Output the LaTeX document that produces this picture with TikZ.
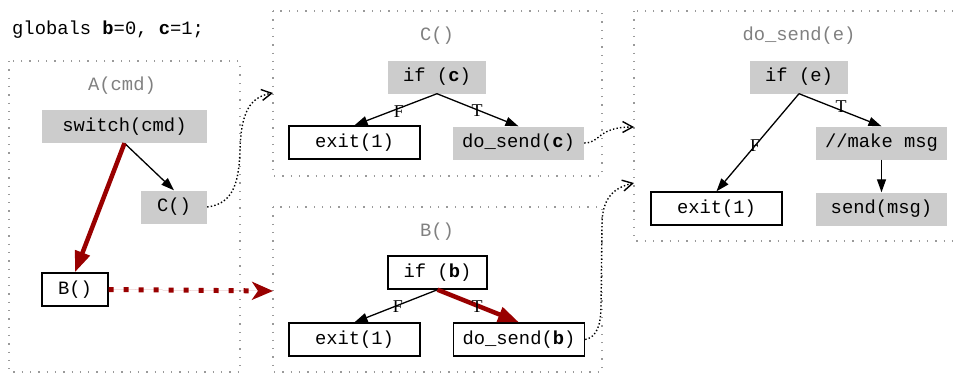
\documentclass[tikz,border=0pt]{standalone}
\usepackage{fontspec}
\setmainfont{Liberation Mono}
\newfontfamily\labfont{Liberation Serif}
\usetikzlibrary{arrows.meta}
\definecolor{boxgray}{HTML}{CCCCCC}
\definecolor{clustgray}{HTML}{9A9A9A}
\definecolor{titlegray}{HTML}{808080}
\definecolor{hotred}{RGB}{153,0,0}
\tikzset{
  code/.style={font=\fontsize{18.8}{20}\selectfont, inner sep=0pt},
  grayblock/.style={code, fill=boxgray, minimum height=33pt},
  plainblock/.style={code, draw=black, line width=1.4pt, fill=white, minimum height=33pt},
  cluster/.style={draw=clustgray, line width=1.3pt, dash pattern=on 1.3pt off 7pt},
  clustertitle/.style={code, text=titlegray, anchor=base},
  flow/.style={-{Triangle[length=13pt,width=9pt]}, line width=1.3pt},
  hotflow/.style={-{Triangle[length=21pt,width=15pt]}, line width=4.5pt, draw=hotred, fill=hotred},
  callflow/.style={-{Straight Barb[length=10pt,width=11pt]}, line width=1.4pt, dash pattern=on 1.4pt off 2.2pt},
  hotcall/.style={-{Stealth[length=21pt,width=18pt,inset=6pt]}, line width=5pt, draw=hotred, fill=hotred, dash pattern=on 5pt off 10pt},
  elabel/.style={font=\labfont\fontsize{18}{20}\selectfont, inner sep=0pt}
}
\begin{document}
\begin{tikzpicture}[x=1pt,y=-1pt]
\useasboundingbox (0,0) rectangle (953,373);

% global declarations
\node[code, anchor=base west] (globals) at (12,34) {globals \textbf{b}=0, \textbf{c}=1;};

% function clusters
\draw[cluster] (9,61) rectangle (240,372);
\draw[cluster] (273,11) rectangle (602,176);
\draw[cluster] (273,207) rectangle (602,372);
\draw[cluster] (634,11) rectangle (962,241);

\node[clustertitle] (tA) at (122,90) {A(cmd)};
\node[clustertitle] (tC) at (437,40) {C()};
\node[clustertitle] (tB) at (437,236) {B()};
\node[clustertitle] (tD) at (799,40) {do\_send(e)};

% A(cmd)
\node[grayblock, minimum width=165pt] (sw) at (124.5,126.5) {switch(cmd)};
\node[grayblock, minimum width=66pt] (callC) at (174,207) {C()};
\node[plainblock, minimum width=66pt] (callB) at (75,289.5) {B()};

% C()
\node[grayblock, minimum width=98pt] (ifc) at (437,77) {if (\textbf{c})};
\node[plainblock, minimum width=131pt] (exitc) at (354.5,142.5) {exit(1)};
\node[grayblock, minimum width=131pt] (sendc) at (518.5,143) {do\_send(\textbf{c})};

% B()
\node[plainblock, minimum width=99pt] (ifb) at (437.5,272.5) {if (\textbf{b})};
\node[plainblock, minimum width=131pt] (exitb) at (354.5,339.5) {exit(1)};
\node[plainblock, minimum width=131pt] (sendb) at (519,339.5) {do\_send(\textbf{b})};

% do_send(e)
\node[grayblock, minimum width=98pt] (ife) at (799,77) {if (e)};
\node[grayblock, minimum width=131pt] (mk) at (881.5,143) {//make msg};
\node[plainblock, minimum width=131pt] (exite) at (716.5,208.5) {exit(1)};
\node[grayblock, minimum width=131pt] (snd) at (881.5,209) {send(msg)};

% entry points of the clusters
\coordinate (inC) at (273,93);
\coordinate (inB) at (273,291);
\coordinate (inD1) at (634,127);
\coordinate (inD2) at (634,183);

% control flow
\draw[flow] (sw.south) -- (callC.north);
\draw[hotflow] (sw.south) -- (callB.north);

\draw[flow] (ifc.south) -- (exitc.north);
\draw[flow] (ifc.south) -- (sendc.north);
\node[elabel] (fc) at (399,112) {F};
\node[elabel] (tc) at (477,111) {T};

\draw[flow] (ifb.south) -- (exitb.north);
\draw[hotflow] (ifb.south) -- (sendb.north);
\node[elabel] (fb) at (398,307) {F};
\node[elabel] (tb) at (477,307) {T};

\draw[flow] (ife.south) -- (exite.north);
\draw[flow] (ife.south) -- (mk.north);
\draw[flow] (mk.south) -- (snd.north);
\node[elabel] (fe) at (755,146) {F};
\node[elabel] (te) at (841,107) {T};

% calls between functions
\draw[callflow] (callC.east) .. controls (232,204) and (239,185) .. (240,150)
  .. controls (241,112) and (250,97) .. (inC);
\draw[hotcall] (callB.east) -- (inB);
\draw[callflow] (sendc.east) .. controls (601,143) and (597,127) .. (inD1);
\draw[callflow] (sendb.east) .. controls (597,337) and (601,325) .. (601,305)
  -- (602,225) .. controls (602,200) and (612,188) .. (inD2);
\end{tikzpicture}
\end{document}
